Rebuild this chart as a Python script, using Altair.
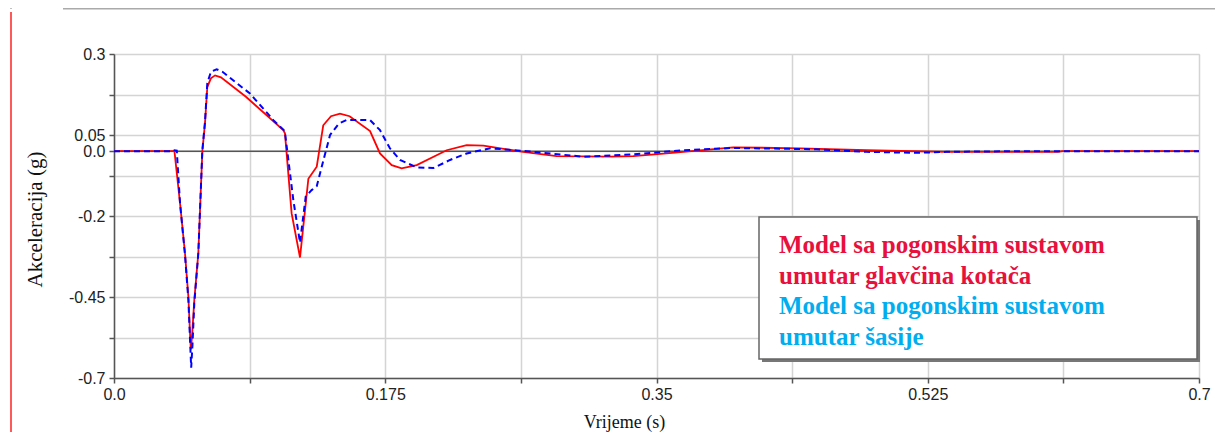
import altair as alt
import pandas as pd

# ---- data ----
red_t = [0.0, 0.039, 0.0426, 0.0458, 0.048, 0.0492, 0.0496, 0.0505, 0.0518, 0.0544, 0.057, 0.0587,
         0.0602, 0.0625, 0.0652, 0.069, 0.0851, 0.1092, 0.1103, 0.1146, 0.1200, 0.1254, 0.1308,
         0.1350, 0.140, 0.1458, 0.152, 0.1652, 0.1716, 0.1792, 0.1856, 0.1953, 0.2146, 0.2275,
         0.2383, 0.264, 0.2856, 0.32, 0.335, 0.3565, 0.3995, 0.4426, 0.4856, 0.537, 0.609, 0.612, 0.7]
red_a = [0.0, 0.0, -0.16, -0.315, -0.45, -0.58, -0.612, -0.56, -0.46, -0.315, 0.0, 0.086,
         0.198, 0.225, 0.234, 0.228, 0.168, 0.065, 0.055, -0.192, -0.328, -0.085, -0.048,
         0.08, 0.108, 0.116, 0.108, 0.062, -0.007, -0.043, -0.053, -0.043, 0.003, 0.019,
         0.017, -0.002, -0.015, -0.017, -0.015, -0.007, 0.012, 0.009, 0.003, -0.002, -0.002, 0.0, 0.0]

blue_t = [0.0, 0.0385, 0.039, 0.0405, 0.0426, 0.0458, 0.048, 0.0492, 0.0498, 0.0506, 0.0518, 0.0544,
          0.057, 0.0587, 0.0602, 0.0625, 0.0662, 0.070, 0.0877, 0.1028, 0.1095, 0.1105, 0.1157,
          0.1200, 0.1237, 0.1275, 0.1308, 0.1350, 0.1394, 0.1450, 0.150, 0.1652, 0.1716, 0.1780,
          0.1845, 0.1953, 0.206, 0.2168, 0.2275, 0.2426, 0.264, 0.3028, 0.335, 0.3673, 0.3995,
          0.4532, 0.4856, 0.518, 0.537, 0.58, 0.7]
blue_a = [0.0, 0.0, 0.003, 0.002, -0.16, -0.32, -0.46, -0.6, -0.668, -0.6, -0.47, -0.315,
          0.003, 0.09, 0.21, 0.245, 0.253, 0.245, 0.178, 0.096, 0.065, 0.05, -0.151,
          -0.282, -0.14, -0.12, -0.108, -0.03, 0.05, 0.085, 0.096, 0.096, 0.065, 0.009,
          -0.027, -0.05, -0.052, -0.027, -0.007, 0.009, 0.001, -0.017, -0.010, 0.003, 0.010,
          0.006, -0.002, -0.005, -0.002, 0.0, 0.0]

series_names = ["Model sa pogonskim sustavom umutar glavčina kotača",
                "Model sa pogonskim sustavom umutar šasije"]
series_colors = ["#ff0000", "#0000ff"]

legend_lines = ["Model sa pogonskim sustavom", "umutar glavčina kotača",
                "Model sa pogonskim sustavom", "umutar šasije"]
legend_colors = ["#e8103c", "#e8103c", "#00aeef", "#00aeef"]

x_tick_values = [0.0, 0.0875, 0.175, 0.2625, 0.35, 0.4375, 0.525, 0.6125, 0.7]
x_label_values = [0.0, 0.175, 0.35, 0.525, 0.7]
x_label_texts = ["0.0", "0.175", "0.35", "0.525", "0.7"]

y_tick_values = [-0.7, -0.575, -0.45, -0.325, -0.2, -0.075, 0.0, 0.05, 0.175, 0.3]
y_label_values = [0.3, 0.05, 0.0, -0.2, -0.45, -0.7]
y_label_texts = ["0.3", "0.05", "0.0", "-0.2", "-0.45", "-0.7"]


def label_expr(values, texts):
    expr = "''"
    for v, t in zip(reversed(values), reversed(texts)):
        expr = f"(abs(datum.value - ({v})) < 1e-9) ? '{t}' : {expr}"
    return expr


df = pd.concat([
    pd.DataFrame({"t": red_t, "a": red_a, "s": series_names[0]}),
    pd.DataFrame({"t": blue_t, "a": blue_a, "s": series_names[1]}),
])

W, H = 1085, 324

x_enc = alt.X("t:Q", scale=alt.Scale(domain=[0, 0.7], nice=False, zero=False),
              axis=alt.Axis(values=x_tick_values, labelExpr=label_expr(x_label_values, x_label_texts),
                            title="Vrijeme (s)", titleFont="Liberation Serif", titleFontSize=18,
                            titleFontWeight="normal", titleColor="#111",
                            titleX=510, titleY=49, titleAlign="center", titleBaseline="alphabetic",
                            labelFont="Liberation Sans", labelFontSize=16, labelColor="#222",
                            labelPadding=3, tickSize=5, tickColor="#555", tickWidth=1.5,
                            domainColor="#555", domainWidth=1.5,
                            grid=True, gridColor="#d4d4d4", gridWidth=1.5,
                            labelFlush=False, labelOverlap=False))
y_axis = alt.Axis(values=y_tick_values, labelExpr=label_expr(y_label_values, y_label_texts),
                  title="Akceleracija (g)", titleFont="Liberation Serif", titleFontSize=21,
                  titleFontWeight="normal", titleColor="#111",
                  titleX=-79, titleY=165, titleAngle=270, titleAlign="center",
                  titleBaseline="middle",
                  labelFont="Liberation Sans", labelFontSize=16, labelColor="#222",
                  labelPadding=4, tickSize=5, tickColor="#555", tickWidth=1.5,
                  domainColor="#555", domainWidth=1.5,
                  grid=True, gridColor="#d4d4d4", gridWidth=1.5,
                  labelFlush=False, labelOverlap=False, labelBound=False)
y_scale = alt.Scale(domain=[-0.7, 0.3], nice=False, zero=False)
y_enc = alt.Y("a:Q", scale=y_scale, axis=y_axis)

zero = alt.Chart(pd.DataFrame({"a": [0.0]})).mark_rule(color="#555", strokeWidth=1.5).encode(
    y=y_enc)
red_line = alt.Chart(df[df.s == series_names[0]]).mark_line(
    color=series_colors[0], strokeWidth=1.8, clip=True).encode(x=x_enc, y=y_enc, order="t:Q")
blue_line = alt.Chart(df[df.s == series_names[1]]).mark_line(
    color=series_colors[1], strokeWidth=2, strokeDash=[6, 4], clip=True).encode(
    x=x_enc, y=y_enc, order="t:Q")

# legend box (annotation)
box_shadow = alt.Chart(pd.DataFrame({"k": [0]})).mark_rect(color="#777").encode(
    x=alt.value(648), x2=alt.value(1086), y=alt.value(166), y2=alt.value(308))
box = alt.Chart(pd.DataFrame({"k": [0]})).mark_rect(fill="white", stroke="#666", strokeWidth=1.5).encode(
    x=alt.value(645), x2=alt.value(1083), y=alt.value(163), y2=alt.value(305))
leg_df = pd.DataFrame({"txt": legend_lines, "col": legend_colors,
                       "row": list(range(len(legend_lines)))})
leg_text = alt.Chart(leg_df).transform_calculate(
    py="199 + datum.row * 30.7"
).mark_text(
    align="left", baseline="alphabetic", font="Liberation Serif", fontWeight="bold", fontSize=25
).encode(
    x=alt.value(665),
    y=alt.Y("py:Q", scale=None, axis=None),
    text="txt:N",
    color=alt.Color("col:N", scale=None, legend=None),
)

# page decorations
top_line = alt.Chart(pd.DataFrame({"k": [0]})).mark_rule(color="#aaaaaa", strokeWidth=2).encode(
    x=alt.value(-51), x2=alt.value(1110), y=alt.value(-45.5))
left_red = alt.Chart(pd.DataFrame({"k": [0]})).mark_rule(color="#ff2020", strokeWidth=1.5).encode(
    x=alt.value(-103), y=alt.value(-42), y2=alt.value(380))
small_tick = alt.Chart(pd.DataFrame({"k": [0]})).mark_rule(color="#aaaaaa", strokeWidth=1.5).encode(
    x=alt.value(-104), x2=alt.value(-102), y=alt.value(-46))

chart = alt.layer(
    zero, red_line, blue_line,
    box_shadow, box, leg_text, top_line, left_red, small_tick
).properties(
    width=W, height=H,
    padding={"left": 106, "top": 46, "right": 16, "bottom": 54},
    autosize=alt.AutoSizeParams(type="none"),
).configure_view(stroke="#555", strokeWidth=1.5).configure(background="white")

chart.save("out.html", embed_options={"renderer": "svg", "actions": False})
